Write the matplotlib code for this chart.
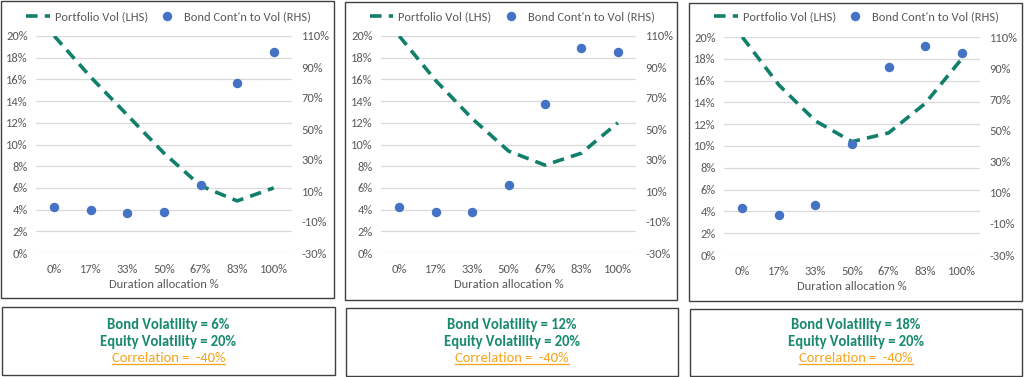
import matplotlib
matplotlib.use("Agg")
import matplotlib.pyplot as plt
from matplotlib.patches import Rectangle
from matplotlib.lines import Line2D
from matplotlib.ticker import FuncFormatter

plt.rcParams['font.family'] = ['Carlito', 'Lato', 'DejaVu Sans']

categories = ["0%", "17%", "33%", "50%", "67%", "83%", "100%"]

portfolio_vol_1 = [20.0, 16.2, 12.7, 9.2, 6.2, 4.8, 6.0]
portfolio_vol_2 = [20.0, 15.9, 12.4, 9.4, 8.1, 9.2, 12.0]
portfolio_vol_3 = [20.0, 15.6, 12.3, 10.4, 11.2, 13.9, 18.0]

bond_contrib_1 = [0.0, -2.2, -4.1, -3.5, 14.0, 79.5, 100.0]
bond_contrib_2 = [0.0, -3.7, -3.6, 13.6, 66.0, 102.4, 100.0]
bond_contrib_3 = [0.0, -4.5, 2.3, 41.3, 90.6, 104.5, 100.0]

bond_vols = ["6%", "12%", "18%"]
equity_vol = "20%"
correlation = "-40%"

left_ticks = [0, 2, 4, 6, 8, 10, 12, 14, 16, 18, 20]
right_ticks = [-30, -10, 10, 30, 50, 70, 90, 110]

W, H = 1024, 377
fig = plt.figure(figsize=(W / 100, H / 100), dpi=100)

TEAL = "#11806A"
BLUE = "#4472C4"
GRAY = "#595959"
GRID = "#D9D9D9"
TXT_TEAL = "#16896F"
ORANGE = "#F5A31A"


def fx(x):
    return x / W


def fy(y):
    return 1 - y / H


def add_box(x0, y0, x1, y1):
    fig.patches.append(Rectangle((fx(x0), fy(y1)), fx(x1 - x0), (y1 - y0) / H,
                                 transform=fig.transFigure, fill=False,
                                 edgecolor="#404040", linewidth=1.0))


panels = [
    dict(box=(1, 1, 334, 298), plot=(36, 36, 292, 253), vol=portfolio_vol_1, con=bond_contrib_1,
         tbox=(2, 307, 335, 375)),
    dict(box=(345, 2, 677, 300), plot=(381, 36, 636, 253), vol=portfolio_vol_2, con=bond_contrib_2,
         tbox=(346, 308, 678, 376)),
    dict(box=(689, 3, 1022, 301), plot=(724, 37, 980, 255), vol=portfolio_vol_3, con=bond_contrib_3,
         tbox=(690, 309, 1022, 376)),
]

underline_texts = []
for i, p in enumerate(panels):
    add_box(*p["box"])
    add_box(*p["tbox"])
    x0, y0, x1, y1 = p["plot"]
    ax = fig.add_axes([fx(x0), fy(y1), fx(x1 - x0), (y1 - y0) / H])
    ax2 = ax.twinx()
    xs = list(range(len(categories)))
    ax.set_xlim(-0.5, len(categories) - 0.5)
    ax.set_ylim(0, 20)
    ax2.set_ylim(-30, 110)
    ax.set_yticks(left_ticks)
    ax2.set_yticks(right_ticks)
    ax.yaxis.set_major_formatter(FuncFormatter(lambda v, _: f"{v:.0f}%"))
    ax2.yaxis.set_major_formatter(FuncFormatter(lambda v, _: f"{v:.0f}%"))
    ax.set_xticks(xs)
    ax.set_xticklabels(categories)
    ax.grid(axis="y", color=GRID, linewidth=0.9)
    ax.set_axisbelow(True)
    for a in (ax, ax2):
        for s in a.spines.values():
            s.set_visible(False)
        a.tick_params(length=0, labelsize=9, colors=GRAY)
    ax.tick_params(axis="y", pad=6)
    ax2.tick_params(axis="y", pad=7)
    ax.tick_params(axis="x", pad=8)
    ax.set_xlabel("Duration allocation %", fontsize=9, color=GRAY, labelpad=3)
    ln, = ax.plot(xs, p["vol"], color=TEAL, linewidth=2.6, dashes=(3.2, 2.0),
                  dash_capstyle="butt", label="Portfolio Vol (LHS)", zorder=3)
    sc, = ax2.plot(xs, p["con"], linestyle="none", marker="o", markersize=5.8,
                   color=BLUE, label="Bond Cont'n to Vol (RHS)", zorder=4)
    bx0, by0, bx1, by1 = p["box"]
    cx = (bx0 + bx1) / 2 + 1
    fig.legend([ln, sc], ["Portfolio Vol (LHS)", "Bond Cont'n to Vol (RHS)"],
               loc="center", bbox_to_anchor=(fx(cx), fy(17)), ncol=2, frameon=False,
               fontsize=9, labelcolor=GRAY, handlelength=1.9, handletextpad=0.4,
               columnspacing=0.6, borderaxespad=0)

    tx0, ty0, tx1, ty1 = p["tbox"]
    tcx = (tx0 + tx1) / 2
    fig.text(fx(tcx), fy(325), f"Bond Volatility = {bond_vols[i]}", ha="center", va="center",
             fontsize=10.5, color=TXT_TEAL, fontweight="bold")
    fig.text(fx(tcx), fy(342), f"Equity Volatility = {equity_vol}", ha="center", va="center",
             fontsize=10.5, color=TXT_TEAL, fontweight="bold")
    t = fig.text(fx(tcx), fy(358), f"Correlation =  {correlation}", ha="center", va="center",
                 fontsize=10.5, color=ORANGE)
    underline_texts.append(t)

fig.canvas.draw()
r = fig.canvas.get_renderer()
for t in underline_texts:
    bb = t.get_window_extent(renderer=r)
    yb = bb.y0 + 0.5
    fig.lines.append(Line2D([bb.x0 / W, bb.x1 / W], [yb / H, yb / H], transform=fig.transFigure,
                            color=ORANGE, linewidth=0.9))

fig.savefig("out.png", dpi=100)
